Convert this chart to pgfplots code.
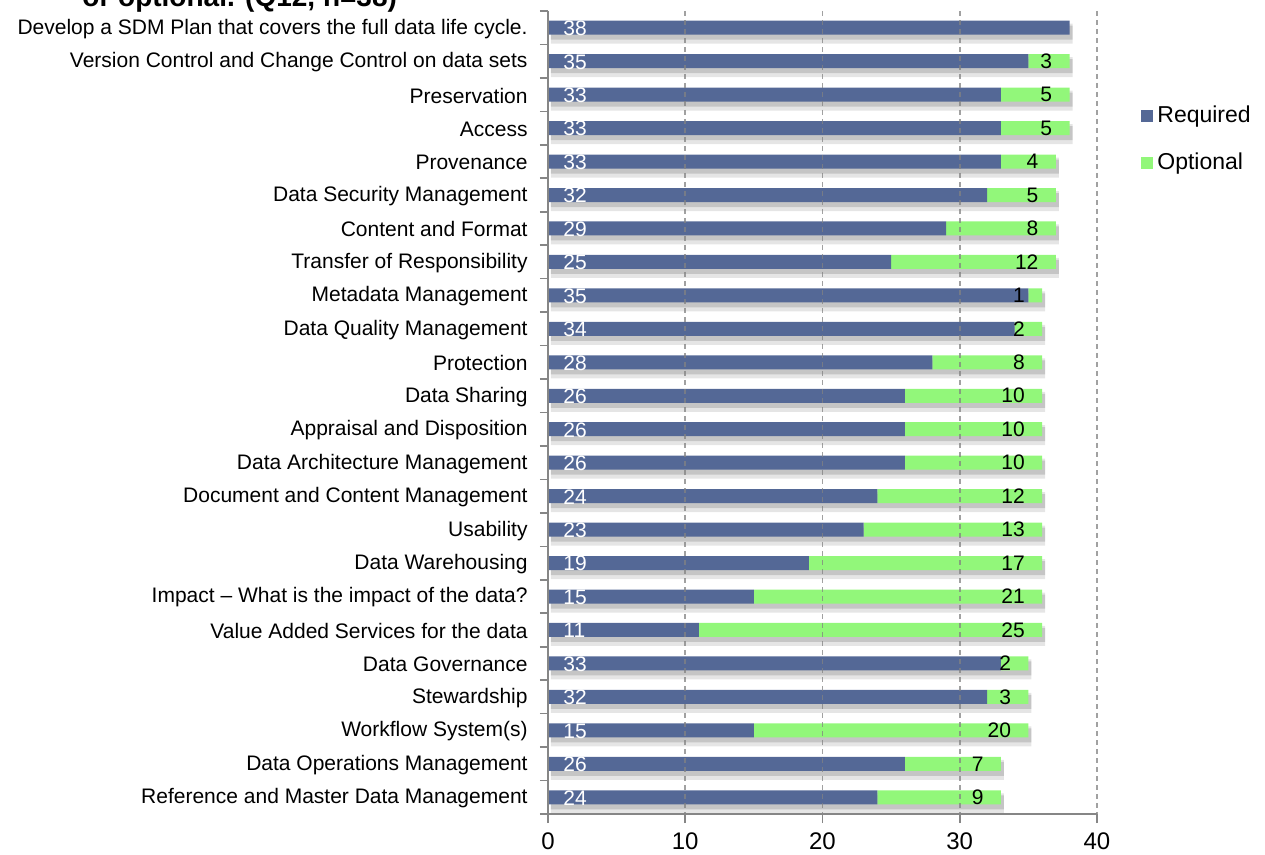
\documentclass[border=0pt]{standalone}
\usepackage{fontspec}
\setmainfont{Liberation Sans}
\usepackage{pgfplots}
\usepackage{pgfplotstable}
\pgfplotsset{compat=1.18}
\definecolor{reqblue}{RGB}{84,104,150}
\definecolor{optgreen}{RGB}{146,247,122}
\definecolor{axisgray}{RGB}{134,134,134}
\definecolor{gridgray}{RGB}{130,130,130}

% pos = row from the top, req = Required, opt = Optional
\pgfplotstableread{
pos req opt
0  38 0
1  35 3
2  33 5
3  33 5
4  33 4
5  32 5
6  29 8
7  25 12
8  35 1
9  34 2
10 28 8
11 26 10
12 26 10
13 26 10
14 24 12
15 23 13
16 19 17
17 15 21
18 11 25
19 33 2
20 32 3
21 15 20
22 26 7
23 24 9
}\datatable

\pgfplotsset{
  common/.style={
    at={(0,0)}, anchor=south west,
    scale only axis, width=274.5pt, height=401.5pt,
    xmin=0, xmax=40, ymin=-0.5, ymax=23.5, y dir=reverse,
  },
}

\begin{document}
\begin{tikzpicture}
% soft bar shadows
\begin{axis}[common, at={(1.5pt,-2.5pt)}, hide axis, xbar, bar width=7pt]
\addplot[fill=black, draw=none, opacity=0.10, bar width=10pt, bar shift=-0.5pt]
  table[x expr=\thisrow{req}+\thisrow{opt}, y=pos] {\datatable};
\addplot[fill=black, draw=none, opacity=0.14, bar width=7pt, bar shift=0pt]
  table[x expr=\thisrow{req}+\thisrow{opt}, y=pos] {\datatable};
\end{axis}

\begin{axis}[common,
  xbar stacked, bar width=7pt,
  axis on top,
  axis x line*=bottom, axis y line*=left,
  axis line style={draw=axisgray, line width=0.8pt, -},
  xtick={0,10,20,30,40},
  xmajorgrids,
  grid style={gridgray, opacity=0.75, line width=0.8pt, dash pattern=on 2.5pt off 2pt},
  tick align=outside,
  major tick length=4.5pt, minor tick length=4pt,
  xtick style={draw=axisgray, line width=0.8pt},
  ytick={0,...,23},
  ytick style={draw=none},
  minor ytick={-0.5,0.5,...,23.5},
  minor y tick style={draw=axisgray, line width=0.8pt},
  yticklabels={
    Develop a SDM Plan that covers the full data life cycle.,
    Version Control and Change Control on data sets,
    Preservation,
    Access,
    Provenance,
    Data Security Management,
    Content and Format,
    Transfer of Responsibility,
    Metadata Management,
    Data Quality Management,
    Protection,
    Data Sharing,
    Appraisal and Disposition,
    Data Architecture Management,
    Document and Content Management,
    Usability,
    Data Warehousing,
    Impact – What is the impact of the data?,
    Value Added Services for the data,
    Data Governance,
    Stewardship,
    Workflow System(s),
    Data Operations Management,
    Reference and Master Data Management},
  yticklabel style={font=\fontsize{10.5}{12}\selectfont, inner sep=0pt, xshift=-5.5pt, yshift=-0.5pt},
  xticklabel style={font=\fontsize{12}{14}\selectfont, yshift=-1.5pt},
  /pgf/number format/assume math mode=true,
  legend cell align=left,
  legend image code/.code={\fill[#1] (0pt,-3pt) rectangle (6pt,3pt);},
  legend style={draw=none, fill=none, at={(1,0.8425)}, anchor=west, xshift=19pt, yshift=-1pt,
    font=\fontsize{11.5}{13}\selectfont, row sep=9.5pt},
]
\addplot[fill=reqblue, draw=none]
  table[x=req, y=pos] {\datatable};
\addlegendentry{Required}

\addplot[fill=optgreen, draw=none]
  table[x=opt, y=pos] {\datatable};
\addlegendentry{Optional}
\end{axis}

% value labels: Required at the start of each bar, Optional at its end
\begin{axis}[common, hide axis, /pgf/number format/assume math mode=true]
\addplot[draw=none, mark=none, point meta=explicit,
  nodes near coords,
  every node near coord/.append style={white, anchor=west, inner sep=0pt,
    xshift=7.5pt, yshift=-0.3pt, font=\fontsize{10.5}{12}\selectfont}]
  table[x expr=0, y=pos, meta=req] {\datatable};
\addplot[draw=none, mark=none, point meta=explicit,
  nodes near coords={\pgfmathfloatifflags{\pgfplotspointmeta}{0}{}{\pgfmathprintnumber{\pgfplotspointmeta}}},
  every node near coord/.append style={black, anchor=east, inner sep=0pt,
    xshift=-8.5pt, font=\fontsize{10.5}{12}\selectfont}]
  table[x expr=\thisrow{req}+\thisrow{opt}, y=pos, meta=opt] {\datatable};
\end{axis}

\node[anchor=base west, inner sep=0pt, font=\bfseries\fontsize{14}{16}\selectfont]
  at (-233pt,403.5pt) {or optional. (Q12, n=38)};

\pgfresetboundingbox
\useasboundingbox (-274pt,-20.5pt) rectangle (358.5pt,407pt);
\end{tikzpicture}
\end{document}
